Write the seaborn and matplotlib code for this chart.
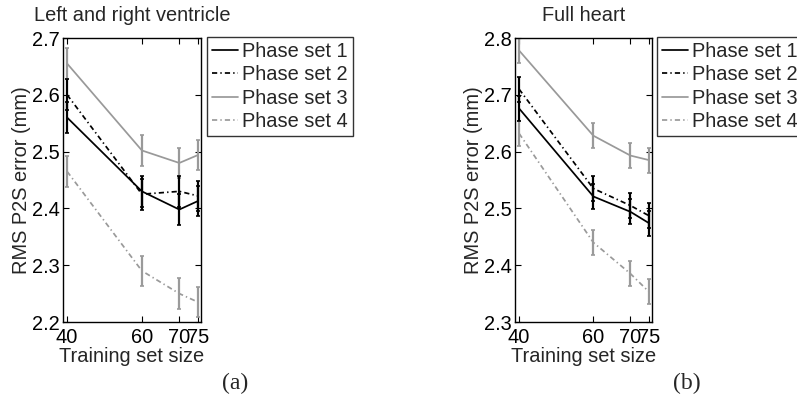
import numpy as np
import pandas as pd
import matplotlib
matplotlib.use("Agg")
import matplotlib.pyplot as plt
import seaborn as sns

sizes = [40, 60, 70, 75]
series_names = ["Phase set 1", "Phase set 2", "Phase set 3", "Phase set 4"]

# Left and right ventricle
lrv_p1 = [2.560, 2.430, 2.398, 2.413]
lrv_p2 = [2.600, 2.425, 2.430, 2.422]
lrv_p3 = [2.655, 2.502, 2.480, 2.494]
lrv_p4 = [2.465, 2.290, 2.250, 2.235]
lrv_err = [0.027, 0.027, 0.027, 0.027]

# Full heart
fh_p1 = [2.676, 2.521, 2.494, 2.474]
fh_p2 = [2.710, 2.535, 2.505, 2.487]
fh_p3 = [2.778, 2.628, 2.593, 2.585]
fh_p4 = [2.632, 2.440, 2.385, 2.353]
fh_err = [0.022, 0.022, 0.022, 0.022]

titles = ["Left and right ventricle", "Full heart"]
panel_labels = ["(a)", "(b)"]
ylims = [(2.2, 2.7), (2.3, 2.8)]
yticks = [[2.2, 2.3, 2.4, 2.5, 2.6, 2.7], [2.3, 2.4, 2.5, 2.6, 2.7, 2.8]]

sns.set_style("ticks")
plt.rcParams["font.family"] = ["Liberation Sans", "DejaVu Sans"]

W, H = 797, 403
fig = plt.figure(figsize=(W / 100, H / 100), dpi=100)

colors = {"Phase set 1": "black", "Phase set 2": "black",
          "Phase set 3": "#999999", "Phase set 4": "#9a9a9a"}
dashes = {"Phase set 1": "", "Phase set 2": (3, 1.8, 0.8, 1.8),
          "Phase set 3": "", "Phase set 4": (3, 1.8, 0.8, 1.8)}
LW = 1.25
FS = 14.4

panels = [
    dict(vals=[lrv_p1, lrv_p2, lrv_p3, lrv_p4], err=lrv_err, left=63, right=201, leg_x=207),
    dict(vals=[fh_p1, fh_p2, fh_p3, fh_p4], err=fh_err, left=515, right=652, leg_x=657),
]
top_px, bot_px = 38, 322

for i, p in enumerate(panels):
    ax = fig.add_axes([p["left"] / W, 1 - bot_px / H, (p["right"] - p["left"]) / W, (bot_px - top_px) / H])
    rows = []
    for name, v in zip(series_names, p["vals"]):
        for s, y in zip(sizes, v):
            rows.append({"size": s, "err": y, "series": name})
    df = pd.DataFrame(rows)
    sns.lineplot(data=df, x="size", y="err", hue="series", style="series",
                 palette=colors, dashes=dashes, linewidth=LW, ax=ax, legend=False)
    draw_order = [2, 3, 1, 0]
    for k in draw_order:
        ax.errorbar(sizes, p["vals"][k], yerr=p["err"], fmt="none",
                    ecolor=colors[series_names[k]], elinewidth=1.6, capsize=1.5, capthick=1.2)
    ax.set_xlim(38.9, 75.8)
    ax.set_ylim(*ylims[i])
    ax.set_xticks(sizes)
    ax.set_xticklabels([str(s) for s in sizes])
    ax.set_yticks(yticks[i])
    ax.set_yticklabels([f"{t:.1f}" for t in yticks[i]])
    ax.tick_params(direction="in", top=True, right=True, length=4, width=0.8,
                   labelsize=FS, colors="black")
    ax.tick_params(axis="x", pad=4)
    ax.tick_params(axis="y", pad=2)
    for sp in ax.spines.values():
        sp.set_linewidth(1.0)
        sp.set_color("black")
    ax.set_xlabel("Training set size", fontsize=FS, labelpad=0)
    ax.set_ylabel("RMS P2S error (mm)", fontsize=FS, labelpad=1)
    ax.set_title(titles[i], fontsize=14.4, pad=12)
    handles = [plt.Line2D([], [], color=colors[n], linewidth=LW,
                          linestyle="-" if dashes[n] == "" else (0, dashes[n])) for n in series_names]
    leg = ax.legend(handles, series_names, loc="upper left",
                    bbox_to_anchor=(p["leg_x"] / W, 1 - 37 / H), bbox_transform=fig.transFigure,
                    fontsize=FS, frameon=True, fancybox=False, handlelength=1.3,
                    handletextpad=0.2, labelspacing=0.22, borderpad=0.25, borderaxespad=0)
    leg.get_frame().set_edgecolor("black")
    leg.get_frame().set_linewidth(1.0)
    fig.text((p["left"] + p["right"]) / 2 / W + 0.13, 1 - 383 / H, panel_labels[i],
             fontsize=17, family=["Liberation Serif"], ha="center", va="center")

fig.savefig("out.png", dpi=100)
